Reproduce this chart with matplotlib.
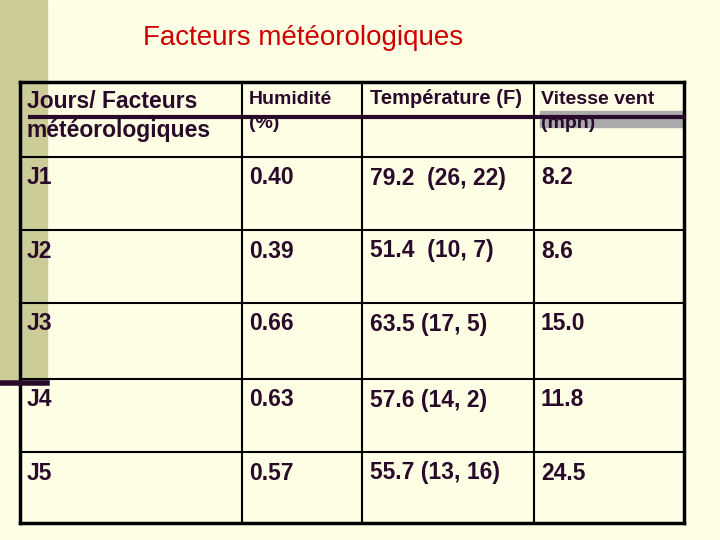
import matplotlib.pyplot as plt
from matplotlib.patches import Rectangle

# table data
days = ["J1", "J2", "J3", "J4", "J5"]
humidity = ["0.40", "0.39", "0.66", "0.63", "0.57"]
temperature = ["79.2  (26, 22)", "51.4  (10, 7)", "63.5 (17, 5)", "57.6 (14, 2)", "55.7 (13, 16)"]
wind = ["8.2", "8.6", "15.0", "11.8", "24.5"]

title = "Facteurs météorologiques"
bg = "#FFFFE5"
ink = "#2A0A2A"

fig = plt.figure(figsize=(7.2, 5.4), dpi=100)
fig.patch.set_facecolor(bg)
ax = fig.add_axes([0, 0, 1, 1])
ax.set_xlim(0, 720)
ax.set_ylim(540, 0)
ax.axis("off")

# left decoration bar
ax.add_patch(Rectangle((0, 0), 47, 383, color="#CCCC99", zorder=0))
ax.plot([0, 47], [383, 383], color=ink, lw=4, zorder=3)

ax.text(303, 38, title, color="#CC0000", fontsize=20, ha="center", va="center",
        family="Liberation Sans")

# grid
cols = [20, 242, 362, 534, 684]
rows = [82, 157, 230, 303, 379, 452, 523]
for x in cols:
    ax.plot([x, x], [rows[0], rows[-1]], color="black", lw=2.5 if x in (20, 684) else 1.5, zorder=2)
for y in rows:
    ax.plot([cols[0], cols[-1]], [y, y], color="black", lw=2.5 if y in (82, 523) else 1.5, zorder=2)

# header decorations
ax.add_patch(Rectangle((540, 111), 144, 16, color="#AAAAAA", zorder=1))
ax.plot([30, 684], [117, 117], color=ink, lw=3, zorder=3)

hf = dict(color=ink, family="Liberation Sans", weight="bold", va="center", zorder=4)
ax.text(27, 101, "Jours/ Facteurs", fontsize=16.5, **hf)
ax.text(27, 131, "météorologiques", fontsize=16.5, **hf)
ax.text(249, 99, "Humidité", fontsize=14, **hf)
ax.text(249, 124, "(%)", fontsize=14, **hf)
ax.text(370, 99, "Température (F)", fontsize=14.5, **hf)
ax.text(541, 99, "Vitesse vent", fontsize=14, **hf)
ax.text(541, 124, "(mph)", fontsize=14, **hf)

cf = dict(color=ink, family="Liberation Sans", weight="bold", fontsize=16.5, va="center", zorder=4)
for i in range(len(days)):
    y = rows[i + 1] + 21
    ax.text(27, y, days[i], **cf)
    ax.text(249, y, humidity[i], **cf)
    ax.text(370, y, temperature[i], **cf)
    ax.text(541, y, wind[i], **cf)

fig.savefig("out.png", dpi=100, facecolor=bg)
